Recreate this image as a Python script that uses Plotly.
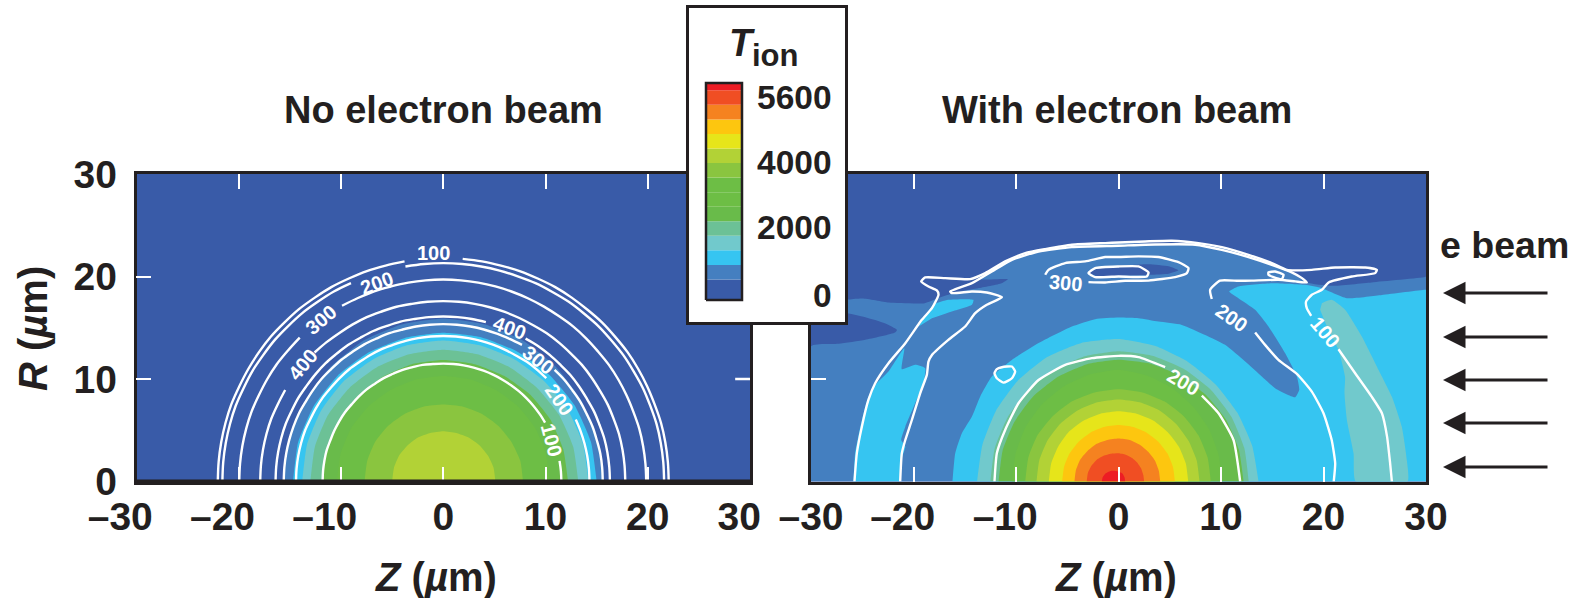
import math
import plotly.graph_objects as go

W, H = 1575, 598
INK = "#231F20"
FONT = "Liberation Sans"

# colour levels of T_ion (lower bound of each band), low to high
LEVEL_EDGES = [-165, 400, 800, 1200, 1600, 2000, 2400, 2800, 3200, 3600, 4000, 4400, 4800, 5200, 5600, 5800]
LEVEL_COLORS = ["#395BA8", "#447FC0", "#36C5F1", "#71C9CC", "#6CC196", "#69BB4A", "#6DBE45", "#6DBE45",
                "#8AC53F", "#B2D236", "#E6E51A", "#FDC60F", "#F58220", "#F04E23", "#ED1C24"]
COLORBAR_TICKS = ["5600", "4000", "2000", "0"]

NB = "\u00a0"
Z_TICKS = [-30, -20, -10, 0, 10, 20, 30]
Z_LABELS_LEFT = ["\u201330" + NB * 3, "\u201320" + NB * 3, "\u201310" + NB * 3, "0", "10", "20", "30" + NB * 2]
Z_LABELS_RIGHT = ["\u201330", "\u201320" + NB * 2, "\u201310" + NB * 2, "0", "10", "20", "30"]
R_TICKS = [0, 10, 20, 30]

# filled bands on rays every 15 deg (radius in um, from +Z over to -Z)
BAND_ANGLES = [0, 15, 30, 45, 60, 75, 90, 105, 120, 135, 150, 165, 180]
LEFT_BANDS = [
    ("#447FC0", [15.6, 15.6, 15.65, 15.7, 15.8, 15.85, 15.9, 15.85, 15.8, 15.7, 15.65, 15.6, 15.6]),
    ("#36C5F1", [15.0, 14.95, 14.85, 14.7, 14.6, 14.55, 14.5, 14.5, 14.55, 14.6, 14.65, 14.7, 14.7]),
    ("#71C9CC", [14.2, 14.15, 14.05, 13.9, 13.8, 13.75, 13.75, 13.75, 13.75, 13.8, 13.8, 13.8, 13.8]),
    ("#6CC196", [13.2, 13.15, 13.05, 12.95, 12.9, 12.85, 12.85, 12.85, 12.9, 12.95, 13.0, 13.0, 13.0]),
    ("#69BB4A", [12.2, 12.15, 12.1, 12.0, 11.9, 11.85, 11.85, 11.85, 11.8, 11.8, 11.8, 11.8, 11.8]),
    ("#6DBE45", [10.4, 10.4, 10.4, 10.35, 10.3, 10.3, 10.3, 10.3, 10.3, 10.35, 10.4, 10.4, 10.4]),
    ("#8AC53F", [7.8, 7.8, 7.7, 7.65, 7.6, 7.55, 7.5, 7.55, 7.6, 7.65, 7.7, 7.7, 7.7]),
    ("#B2D236", [5.1, 5.1, 5.05, 5.0, 4.95, 4.9, 4.9, 4.9, 4.95, 4.95, 5.0, 5.0, 5.0]),
]
RIGHT_BANDS = [
    ("#71C9CC", [13.66, 13.5, 13.4, 13.4, 13.5, 13.7, 13.9, 14.0, 14.0, 13.9, 13.8, 13.75, 13.8]),
    ("#6CC196", [12.7, 12.7, 12.7, 12.7, 12.7, 12.7, 12.7, 12.65, 12.6, 12.55, 12.5, 12.5, 12.5]),
    ("#69BB4A", [12.2, 12.15, 12.1, 12.0, 11.95, 11.9, 11.87, 11.85, 11.8, 11.75, 11.7, 11.7, 11.7]),
    ("#6DBE45", [10.1, 10.1, 10.2, 10.3, 10.5, 10.7, 10.9, 10.8, 10.7, 10.6, 10.5, 10.4, 10.4]),
    ("#8AC53F", [9.0, 9.0, 9.0, 9.0, 9.0, 9.0, 9.0, 9.0, 9.05, 9.05, 9.1, 9.1, 9.1]),
    ("#B2D236", [7.9, 7.9, 7.9, 7.95, 8.0, 8.0, 8.0, 8.0, 8.0, 8.0, 8.0, 8.0, 8.0]),
    ("#E6E51A", [6.8, 6.8, 6.8, 6.8, 6.85, 6.85, 6.85, 6.85, 6.85, 6.85, 6.8, 6.8, 6.8]),
    ("#FDC60F", [5.5, 5.5, 5.5, 5.5, 5.5, 5.5, 5.5, 5.5, 5.5, 5.5, 5.5, 5.5, 5.5]),
    ("#F58220", [4.07, 4.07, 4.1, 4.1, 4.15, 4.2, 4.2, 4.2, 4.25, 4.25, 4.3, 4.3, 4.3]),
    ("#F04E23", [2.5, 2.5, 2.55, 2.6, 2.65, 2.7, 2.75, 2.8, 2.9, 3.0, 3.05, 3.1, 3.1]),
    ("#ED1C24", [0.65, 0.65, 0.7, 0.75, 0.85, 0.9, 0.95, 1.05, 1.2, 1.35, 1.5, 1.6, 1.63]),
]

# left-panel contours on rays every 5 deg; None is the gap left for a label
CONTOUR_ANGLES = list(range(0, 181, 5))
N = None
LEFT_CONTOURS = [
    [22.05, 22.05, 22.05, 22.05, 22.0, 22.0, 22.0, 22.0, 21.95, 21.95, 21.9, 21.9, 21.9, 21.85, 21.85, 21.8, 21.8, 21.8, N,
     N, 21.8, 21.8, 21.85, 21.85, 21.9, 21.9, 21.95, 21.95, 22.0, 22.0, 22.0, 22.0, 22.05, 22.05, 22.05, 22.05, 22.05],
    [21.6, 21.6, 21.6, 21.6, 21.55, 21.55, 21.5, 21.5, 21.45, 21.45, 21.4, 21.4, 21.35, 21.35, 21.3, 21.3, 21.3, 21.3, 21.3,
     21.3, 21.3, N, N, 21.35, 21.4, 21.4, 21.45, 21.45, 21.5, 21.5, 21.55, 21.55, 21.6, 21.6, 21.6, 21.6, 21.6],
    [19.85, 19.85, 19.85, 19.85, 19.8, 19.8, 19.8, 19.8, 19.75, 19.75, 19.75, 19.7, 19.7, 19.7, 19.7, 19.7, 19.7, 19.7, 19.7,
     19.7, 19.7, 19.7, 19.75, 19.75, 19.8, N, N, 19.85, 19.85, 19.9, 19.9, 19.9, 19.95, 19.95, 19.95, 19.95, 19.95],
    [17.8, 17.8, 17.8, 17.8, 17.75, 17.75, 17.7, 17.7, 17.7, 17.65, 17.65, 17.65, 17.6, 17.6, 17.6, 17.6, 17.6, 17.6, 17.6,
     17.6, 17.6, 17.65, 17.65, 17.7, 17.7, 17.7, 17.75, 17.8, N, N, 17.85, 17.85, 17.9, 17.9, 17.9, 17.9, 17.9],
    [16.3, 16.3, 16.3, 16.3, 16.25, 16.25, 16.2, 16.2, 16.2, 16.15, 16.15, 16.15, 16.1, N, N, 16.1, 16.1, 16.1, 16.1,
     16.1, 16.1, 16.15, 16.15, 16.2, 16.2, 16.25, 16.25, 16.3, 16.3, 16.3, 16.35, 16.35, 16.4, 16.4, 16.4, 16.4, 16.4],
    [15.6, 15.6, 15.6, 15.55, 15.55, 15.5, 15.5, 15.45, 15.45, 15.4, N, N, 15.4, 15.35, 15.35, 15.35, 15.35, 15.35, 15.35,
     15.35, 15.35, 15.35, 15.4, 15.4, 15.45, 15.45, 15.5, 15.5, 15.55, 15.55, 15.55, 15.6, 15.6, 15.6, 15.6, 15.6, 15.6],
    [14.3, 14.3, 14.3, 14.3, 14.3, 14.3, N, N, N, 14.25, 14.25, 14.25, 14.2, 14.2, 14.2, 14.2, 14.2, 14.2, 14.2,
     14.2, 14.2, 14.2, 14.2, 14.25, 14.25, 14.25, 14.3, 14.3, 14.3, 14.35, 14.35, 14.35, 14.4, 14.4, 14.4, 14.4, 14.4],
    [11.55, 11.55, 11.55, N, N, N, 11.5, 11.5, 11.5, 11.5, 11.5, 11.5, 11.5, 11.5, 11.5, 11.5, 11.5, 11.5, 11.5,
     11.5, 11.55, 11.55, 11.6, 11.6, 11.65, 11.65, 11.7, 11.7, 11.7, 11.75, 11.75, 11.75, 11.75, 11.8, 11.8, 11.8, 11.8],
]
LEFT_LABELS = [("100", -1.0, 22.3, 0), ("200", -6.5, 19.4, -20), ("300", -12.0, 15.8, -40), ("400", -13.8, 11.4, -50),
               ("400", 6.5, 15.0, 20), ("300", 9.3, 11.9, 38), ("200", 11.4, 8.0, 55), ("100", 10.6, 4.05, 75)]

# right panel: irregular filled regions (Z, R)
RIGHT_MID_Z = [-30, -30, -27.3, -24.7, -21.8, -21.6, -22.8, -24.7, -26.7, -27.3, -27.2, -25.0, -22.4, -18.9, -17.7, -16.3, -15.0, -13.7,
               -11.4, -10.8, -13.7, -12.4, -9.76, -7.15, -4.55, 0, 2.6, 7.48, 10.1, 12.68, 14.96, 16.9, 18.37, 20.8, 24.7, 29.9, 30, 30]
RIGHT_MID_R = [0, 13.2, 13.43, 13.82, 14.53, 14.8, 15.45, 16.03, 16.49, 16.75, 17.56, 17.85, 17.46, 17.4, 17.85, 18.31, 18.63, 18.86,
               19.35, 19.74, 19.74, 20.65, 21.8, 22.54, 23.0, 23.26, 23.2, 23.2, 22.77, 22.0, 21.24, 20.4, 19.42, 19.09, 19.42, 19.94, 20.0, 0]
RIGHT_BLOB_Z = [-2.93, -1.95, 0, 2.93, 4.88, 5.85, 4.88, 3.09, 0, -1.95]
RIGHT_BLOB_R = [20.33, 20.8, 21.05, 21.2, 21.0, 20.6, 20.27, 20.17, 20.07, 20.0]
RIGHT_SKY_Z = [-16.2, -15.93, -15.28, -14.3, -13.5, -12.36, -10.4, -7.8, -4.55, -2.28, 0, 1.95, 3.9, 6.18, 8.46, 10.4, 12.36, 13.98, 15.28,
               17.24, 17.63, 17.4, 16.26, 14.63, 13.33, 11.7, 10.8, 11.7, 14.96, 18.2, 19.84, 22.28, 25.7, 29.9, 30, 30]
RIGHT_SKY_R = [0, 2.75, 4.7, 6.33, 8.28, 10.24, 11.86, 13.5, 15.12, 15.84, 16.0, 15.93, 15.6, 15.28, 14.3, 13.33, 11.7, 10.24, 9.1,
               8.22, 8.94, 10.24, 12.5, 15.12, 16.75, 17.89, 18.54, 19.03, 19.35, 19.19, 18.86, 17.89, 18.2, 18.7, 18.7, 0]
RIGHT_STRIP_Z = [-25.85, -25.7, -25.04, -24.4, -23.58, -22.44, -20.9, -21.14, -19.84, -18.86, -19.02, -19.84, -20.8, -21.2, -20.8, -21.2, -21.36]
RIGHT_STRIP_R = [0, 2.75, 6.0, 8.28, 9.59, 10.73, 13.0, 10.95, 11.38, 11.05, 9.59, 7.63, 5.35, 4.05, 3.4, 2.1, 0]
RIGHT_PATCH_Z = [-19.5, -18.05, -16.6, -14.15, -14.3, -16.26, -18.2]
RIGHT_PATCH_R = [15.12, 17.24, 17.72, 17.72, 17.24, 16.58, 15.93]
RIGHT_TEAL_Z = [19.84, 20.8, 22.1, 23.74, 25.37, 26.67, 27.64, 28.13, 28.2, 23.15, 22.93, 22.28, 22.05, 22.1, 21.46, 20.33, 19.67]
RIGHT_TEAL_R = [17.4, 17.72, 16.75, 14.14, 10.89, 8.28, 5.35, 2.1, 0, 0, 2.75, 6.0, 8.6, 10.24, 12.84, 15.12, 16.75]

# right panel: contour lines (Z, R); None is the gap left for a label
C100_Z = [-25.76, -25.53, -25.04, -24.4, -23.74, -22.44, -20.8, -19.19, -18.2, -17.56, -17.72, -18.54, -19.25, -18.86, -16.9, -14.47, -13.0, -11.06,
          -9.1, -7.15, -4.55, -1.3, 0, 2.6, 5.2, 7.8, 10.08, 12.68, 14.96, 16.42, 18.86, 21.14, 24.07, 25.2, 25.04, 22.76, 20.5, 19.84, 18.86, 18.3,
          18.37, 18.8, N, 21.46, 23.09, 24.7, 25.7, 26.2, 26.5, 26.67]
C100_R = [0, 2.75, 5.35, 7.96, 9.59, 11.54, 13.49, 15.77, 16.91, 18.22, 18.64, 19.03, 19.52, 19.91, 19.84, 19.74, 20.33, 21.47,
          22.28, 22.67, 23.1, 23.26, 23.32, 23.42, 23.49, 23.26, 22.87, 22.12, 21.31, 20.65, 20.65, 20.88, 20.88, 20.65, 20.33, 20.0, 19.42, 18.7, 18.22, 17.56,
          16.91, 16.16, N, 12.9, 10.56, 8.28, 6.66, 4.38, 1.77, 0]
C200_Z = [-21.3, -21.14, -20.8, -20.16, -19.35, -18.7, -18.54, -18.2, -16.6, -14.96, -13.98, -12.85, -11.38, -12.85, -14.3, -16.26, -16.42, -14.3, -12.36, -10.4,
          -7.8, -4.55, 0, 2.6, 7.48, 10.08, 12.68, 14.96, 16.9, 17.9, 18.37, 17.24, 15.6, 13.0, 11.7, 9.9, 8.94, 9.1, N, 13.33, 14.3, 15.6, 17.4, 18.86, 20.0, 20.8, 21.14, 21.0]
C200_R = [0, 2.75, 4.05, 6.0, 8.6, 10.4, 11.7, 12.35, 13.82, 15.12, 16.42, 17.24, 17.98, 18.44, 18.54, 18.38, 18.54, 19.35, 20.49, 21.63,
          22.44, 22.87, 23.0, 23.1, 23.1, 22.6, 21.9, 21.14, 20.4, 19.84, 19.42, 19.52, 19.68, 19.6, 19.58, 19.6, 18.7, 17.8, N, 14.54, 13.33, 11.87, 10.5, 8.77, 6.66, 4.05, 1.77, 0]
C200_INNER_Z = [-12.1, -11.87, -11.06, -9.76, -7.8, -5.2, -2.6, 0, 1.95, 4.55, N, 8.13, 9.76, 11.22, 11.87]
C200_INNER_R = [0, 2.75, 5.03, 7.63, 9.9, 11.38, 12.03, 12.26, 12.13, 11.15, N, 8.38, 6.66, 4.05, 0]
C_SMALL_Z = [-11.38, -10.4, -10.08, -10.4, -11.22, -11.87, -12.1, -11.87, -11.38]
C_SMALL_R = [11.15, 11.22, 10.73, 10.07, 9.65, 10.07, 10.56, 10.96, 11.15]
C300_Z = [-7.15, -6.83, -5.2, -3.25, -1.3, 0, 1.95, 3.9, 5.85, 6.83, 6.67, 5.53, 2.93, 0.65, -1.3, -2.93]
C300_R = [20.17, 20.65, 21.31, 21.47, 21.9, 21.9, 21.96, 21.9, 21.4, 20.82, 20.33, 19.94, 19.6, 19.58, 19.42, 19.45]
C400_Z = [-2.93, -2.28, 0, 1.95, 2.93, 2.76, 0, -2.28, -2.93]
C400_R = [20.33, 20.82, 20.98, 20.98, 20.4, 20.0, 20.0, 19.94, 20.33]
C_TINY_Z = [14.63, 15.28, 16.1, 15.93, 15.12, 14.63, 14.63]
C_TINY_R = [20.4, 20.49, 20.17, 19.74, 19.94, 20.17, 20.4]
RIGHT_LABELS = [("300", -5.2, 19.35, 5), ("200", 11.06, 15.97, 35), ("100", 20.17, 14.63, 50), ("200", 6.34, 9.75, 30)]

ARROW_ROWS_PX = [293, 337, 380, 423, 467]


def rays(angles, radii):
    zs, rs = [], []
    for a, r in zip(angles, radii):
        if r is None:
            zs.append(None)
            rs.append(None)
        else:
            zs.append(r * math.cos(math.radians(a)))
            rs.append(r * math.sin(math.radians(a)))
    return zs, rs


def px_x(p):
    return p / W


def px_y(p):
    return 1 - p / H


fig = go.Figure()


def fill(z, r, color, ax, smooth=True):
    fig.add_trace(go.Scatter(x=z, y=r, xaxis="x" + ax, yaxis="y" + ax, mode="lines", fill="toself", fillcolor=color,
                             line=dict(width=0, color=color, shape="spline" if smooth else "linear", smoothing=0.5),
                             hoverinfo="skip", showlegend=False))


def contour(z, r, ax):
    fig.add_trace(go.Scatter(x=z, y=r, xaxis="x" + ax, yaxis="y" + ax, mode="lines",
                             line=dict(width=2.4, color="white", shape="spline", smoothing=0.5),
                             hoverinfo="skip", showlegend=False))


# left panel
for color, radii in LEFT_BANDS:
    z, r = rays(BAND_ANGLES, radii)
    fill(z, r, color, "")
for radii in LEFT_CONTOURS:
    z, r = rays(CONTOUR_ANGLES, radii)
    fig.add_trace(go.Scatter(x=z, y=r, mode="lines", line=dict(width=2.4, color="white", shape="spline", smoothing=1.0),
                             hoverinfo="skip", showlegend=False))
# the R = 10 tick on the panel's right side
fig.add_trace(go.Scatter(x=[28.55, 30], y=[10, 10], mode="lines", line=dict(width=2.4, color="white"), hoverinfo="skip", showlegend=False))

# right panel
fill(RIGHT_MID_Z, RIGHT_MID_R, "#447FC0", "2")
fill(RIGHT_BLOB_Z, RIGHT_BLOB_R, "#395BA8", "2")
fill(RIGHT_SKY_Z, RIGHT_SKY_R, "#36C5F1", "2")
fill(RIGHT_STRIP_Z, RIGHT_STRIP_R, "#36C5F1", "2")
fill(RIGHT_PATCH_Z, RIGHT_PATCH_R, "#36C5F1", "2")
fill(RIGHT_TEAL_Z, RIGHT_TEAL_R, "#71C9CC", "2")
for color, radii in RIGHT_BANDS:
    z, r = rays(BAND_ANGLES, radii)
    fill(z, r, color, "2")
for z, r in [(C100_Z, C100_R), (C200_Z, C200_R), (C200_INNER_Z, C200_INNER_R), (C_SMALL_Z, C_SMALL_R),
             (C300_Z, C300_R), (C400_Z, C400_R), (C_TINY_Z, C_TINY_R)]:
    contour(z, r, "2")

# colour key: white card, then bars on the T_ion scale
CARD_LOW, CARD_HIGH = -770, 7862
fig.add_trace(go.Bar(x=[78], y=[CARD_HIGH - CARD_LOW], base=[CARD_LOW], width=156, marker=dict(color="white", line=dict(width=0)),
                     xaxis="x3", yaxis="y3", hoverinfo="skip", showlegend=False))
fig.add_trace(go.Bar(x=[35] * len(LEVEL_COLORS), y=[b - a for a, b in zip(LEVEL_EDGES, LEVEL_EDGES[1:])], base=LEVEL_EDGES[:-1],
                     width=36, marker=dict(color=LEVEL_COLORS, line=dict(width=0)), xaxis="x3", yaxis="y3",
                     hoverinfo="skip", showlegend=False))
fig.add_trace(go.Scatter(x=[17, 53, 53, 17, 17], y=[LEVEL_EDGES[0], LEVEL_EDGES[0], LEVEL_EDGES[-1], LEVEL_EDGES[-1], LEVEL_EDGES[0]],
                         xaxis="x3", yaxis="y3", mode="lines", line=dict(width=2.5, color=INK), hoverinfo="skip", showlegend=False))

annotations = []


def text(s, x, y, size, color=INK, rot=0, xref="paper", yref="paper", anchor="center"):
    annotations.append(dict(text=s, x=x, y=y, xref=xref, yref=yref, showarrow=False, textangle=rot, xanchor=anchor, yanchor="middle",
                            font=dict(family=FONT, size=size, color=color)))


for s, z, r, rot in LEFT_LABELS:
    text("<b>%s</b>" % s, z, r, 20, "white", rot, "x", "y")
for s, z, r, rot in RIGHT_LABELS:
    text("<b>%s</b>" % s, z, r, 20, "white", rot, "x2", "y2")

text("<b>No electron beam</b>", px_x(444), px_y(110), 38)
text("<b>With electron beam</b>", px_x(1117), px_y(110), 38)
text("<b>e beam</b>", px_x(1438), px_y(245), 37.5, anchor="left")
text("<i><b>T</b></i>", px_x(741.5), px_y(43), 38)
text("<b>ion</b>", px_x(775), px_y(55), 31)
for s, yp in zip(COLORBAR_TICKS, [97, 163, 228, 295]):
    text("<b>%s</b>" % s, px_x(834), px_y(yp), 33.5, anchor="right")
for yp in ARROW_ROWS_PX:
    annotations.append(dict(x=px_x(1443), y=px_y(yp), xref="paper", yref="paper", ax=106, ay=0, axref="pixel", ayref="pixel",
                            text="", showarrow=True, arrowhead=2, arrowsize=1.5, arrowwidth=3, arrowcolor=INK))
AXIS_TITLE_Z = "<b><i>Z</i> (<i>\u00b5</i>m)</b>"
AXIS_TITLE_R = "<b><i>R</i> (<i>\u00b5</i>m)</b>"
text(AXIS_TITLE_Z, px_x(436), px_y(577), 40)
text(AXIS_TITLE_Z, px_x(1116), px_y(577), 40)
text(AXIS_TITLE_R, px_x(33), px_y(329), 40, rot=-90)

tick_font = dict(family=FONT, size=39, color=INK)


def z_axis(domain, anchor, labels):
    return dict(domain=domain, anchor=anchor, automargin=False, range=[-30, 30], tickvals=Z_TICKS, ticktext=["<b>%s</b>" % t for t in labels],
                ticks="", tickfont=tick_font, ticklabelstandoff=-1, showgrid=False, zeroline=False,
                showline=True, linecolor=INK, linewidth=2.5, mirror="ticks",
                minor=dict(tickvals=[-20, -10, 0, 10, 20], ticks="inside", ticklen=15, tickwidth=2.4, tickcolor="white", showgrid=False))


def r_axis(domain, anchor, **kw):
    return dict(domain=domain, anchor=anchor, automargin=False, range=[0, 30], tickvals=R_TICKS, ticktext=["<b>%d</b>" % t for t in R_TICKS],
                ticks="", tickfont=tick_font, showgrid=False, zeroline=False, showline=True, linecolor=INK, linewidth=2.5, mirror=True,
                minor=dict(tickvals=[10, 20], ticks="inside", ticklen=15, tickwidth=2.4, tickcolor="white", showgrid=False), **kw)


ydom = [px_y(481.5), px_y(174)]
fig.update_layout(
    width=W, height=H, margin=dict(l=0, r=0, t=0, b=0), autosize=False, showlegend=False, barmode="overlay",
    paper_bgcolor="white", plot_bgcolor="#395BA8", annotations=annotations,
    shapes=[dict(type="line", xref="paper", yref="paper", x0=px_x(135.5), x1=px_x(751), y0=px_y(481), y1=px_y(481),
                 line=dict(color=INK, width=3), layer="above")],
    xaxis=z_axis([px_x(136.5), px_x(750)], "y", Z_LABELS_LEFT),
    yaxis=r_axis(ydom, "x", ticklabelstandoff=9),
    xaxis2=z_axis([px_x(811), px_x(1426)], "y2", Z_LABELS_RIGHT),
    yaxis2=r_axis(ydom, "x2", showticklabels=False),
    xaxis3=dict(domain=[px_x(689), px_x(845)], anchor="y3", range=[0, 156], showticklabels=False, ticks="", showgrid=False,
                zeroline=False, showline=True, mirror=True, linecolor=INK, linewidth=3),
    yaxis3=dict(domain=[px_y(322), px_y(8)], anchor="x3", range=[CARD_LOW, CARD_HIGH], showticklabels=False, ticks="", showgrid=False,
                zeroline=False, showline=True, mirror=True, linecolor=INK, linewidth=3),
)

fig.write_html("out.html", config=dict(displayModeBar=False),
               post_script="document.body.style.margin='0';document.documentElement.style.overflow='hidden';")
